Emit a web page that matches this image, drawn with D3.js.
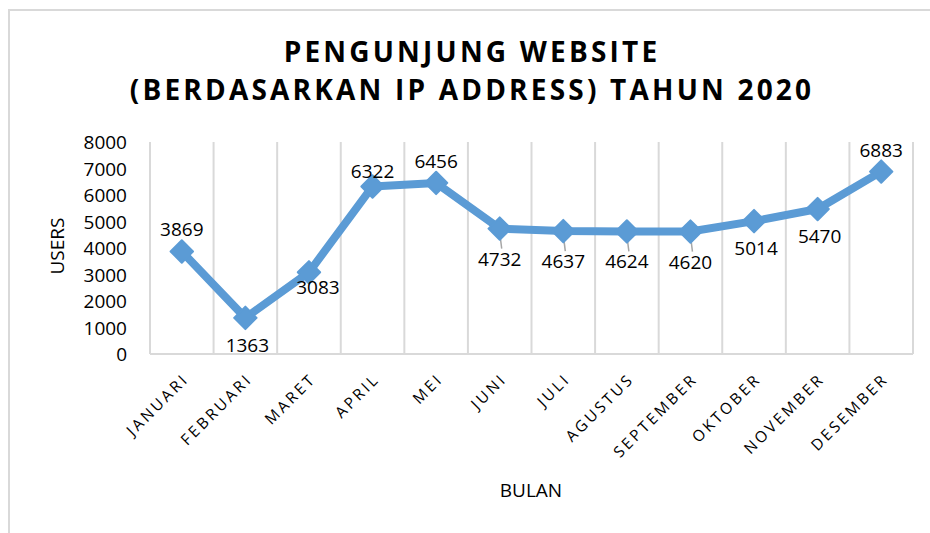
<!DOCTYPE html>
<html>
<head>
<meta charset="utf-8">
<script src="https://cdn.jsdelivr.net/npm/d3@7"></script>
<style>
  html, body { margin: 0; padding: 0; background: #fff; }
  svg { display: block; }
  text { font-family: "Open Sans", "Noto Sans", sans-serif; fill: #000; }
</style>
</head>
<body>
<svg id="chart" width="930" height="533"></svg>
<script>
const titleLines = ["PENGUNJUNG WEBSITE", "(BERDASARKAN IP ADDRESS) TAHUN 2020"];
const months = ["JANUARI", "FEBRUARI", "MARET", "APRIL", "MEI", "JUNI", "JULI",
                "AGUSTUS", "SEPTEMBER", "OKTOBER", "NOVEMBER", "DESEMBER"];
const users = [3869, 1363, 3083, 6322, 6456, 4732, 4637, 4624, 4620, 5014, 5470, 6883];
const yTicks = [0, 1000, 2000, 3000, 4000, 5000, 6000, 7000, 8000];
const labelPlacement = ["above", "below", "belowRight", "aboveNear", "above", "belowFar",
                        "belowFar", "belowFar", "belowFar", "below", "below", "above"];
const yAxisTitle = "USERS";
const xAxisTitle = "BULAN";

const svg = d3.select("#chart");
const W = 930, H = 533;
const color = "#5B9BD5";
const gridColor = "#D9D9D9";

// outer chart border (cropped at right/bottom)
svg.append("path")
  .attr("d", `M9,${H} L9,10 L${W},10`)
  .attr("fill", "none").attr("stroke", gridColor).attr("stroke-width", 2);

// title
svg.append("g").selectAll("text").data(titleLines).join("text")
  .attr("x", 472).attr("y", (d, i) => 62 + i * 38)
  .attr("text-anchor", "middle")
  .style("font-size", "28px").style("font-weight", "bold")
  .style("letter-spacing", "3.2px")
  .text(d => d);

const m = { left: 150, right: 913, top: 142, bottom: 354 };
const x = d3.scaleBand().domain(months).range([m.left, m.right]).paddingInner(0).paddingOuter(0);
const y = d3.scaleLinear().domain([0, 8000]).range([m.bottom, m.top]);

// vertical gridlines at category boundaries
const bounds = months.map(d => x(d)).concat([x(months[months.length - 1]) + x.bandwidth()]);
svg.append("g").selectAll("line").data(bounds).join("line")
  .attr("x1", d => d).attr("x2", d => d)
  .attr("y1", m.top).attr("y2", m.bottom)
  .attr("stroke", gridColor).attr("stroke-width", 2);

// x axis line
svg.append("line")
  .attr("x1", m.left).attr("x2", m.right).attr("y1", m.bottom).attr("y2", m.bottom)
  .attr("stroke", gridColor).attr("stroke-width", 2);

// y axis tick labels
const yAxis = d3.axisLeft(y).tickValues(yTicks).tickSize(0).tickPadding(0).tickFormat(d3.format("d"));
const yg = svg.append("g").attr("transform", `translate(127,0)`).call(yAxis);
yg.select(".domain").remove();
yg.selectAll("text").style("font-size", "19px").style("font-family", "'Open Sans', sans-serif")
  .attr("fill", "#000").attr("dy", "0.36em");

// x axis labels
const xAxis = d3.axisBottom(x).tickSize(0).tickPadding(0);
const xg = svg.append("g").attr("transform", `translate(0,${m.bottom})`).call(xAxis);
xg.select(".domain").remove();
xg.selectAll("text")
  .style("font-size", "15.5px").style("font-family", "'Open Sans', sans-serif")
  .style("letter-spacing", "2.8px")
  .attr("fill", "#000")
  .attr("text-anchor", "end")
  .attr("dy", "0")
  .attr("y", 0)
  .attr("transform", "translate(8,26) rotate(-45)");

// axis titles
svg.append("text")
  .attr("transform", `translate(64,246) rotate(-90)`)
  .attr("text-anchor", "middle")
  .style("font-size", "19px")
  .text(yAxisTitle);
svg.append("text")
  .attr("x", 531).attr("y", 497)
  .attr("text-anchor", "middle")
  .style("font-size", "19px")
  .text(xAxisTitle);

const cx = d => x(d) + x.bandwidth() / 2;
const pts = months.map((mo, i) => ({ m: mo, v: users[i], p: labelPlacement[i] }));

// leader lines for far labels
svg.append("g").selectAll("line").data(pts.filter(d => d.p === "belowFar")).join("line")
  .attr("x1", d => cx(d.m)).attr("x2", d => cx(d.m) + 2)
  .attr("y1", d => y(d.v) + 4).attr("y2", d => y(d.v) + 20)
  .attr("stroke", "#A6A6A6").attr("stroke-width", 1.5);

// line
const line = d3.line().x(d => cx(d.m)).y(d => y(d.v));
svg.append("path").datum(pts)
  .attr("d", line)
  .attr("fill", "none").attr("stroke", color)
  .attr("stroke-width", 8).attr("stroke-linejoin", "round").attr("stroke-linecap", "round");

// diamond markers
const diamond = d3.symbol().type(d3.symbolDiamond2).size(320);
svg.append("g").selectAll("path").data(pts).join("path")
  .attr("d", diamond)
  .attr("transform", d => `translate(${cx(d.m)},${y(d.v)})`)
  .attr("fill", color).attr("stroke", color).attr("stroke-width", 2).attr("stroke-linejoin", "round");

// data labels
const place = {
  above: { dx: 0, dy: -15 },
  aboveNear: { dx: 0, dy: -8 },
  below: { dx: 2, dy: 34 },
  belowRight: { dx: 9, dy: 22 },
  belowFar: { dx: 0, dy: 37 }
};
svg.append("g").selectAll("text").data(pts).join("text")
  .attr("x", d => cx(d.m) + place[d.p].dx)
  .attr("y", d => y(d.v) + place[d.p].dy)
  .attr("text-anchor", "middle")
  .style("font-size", "19px")
  .text(d => d.v);
</script>
</body>
</html>
